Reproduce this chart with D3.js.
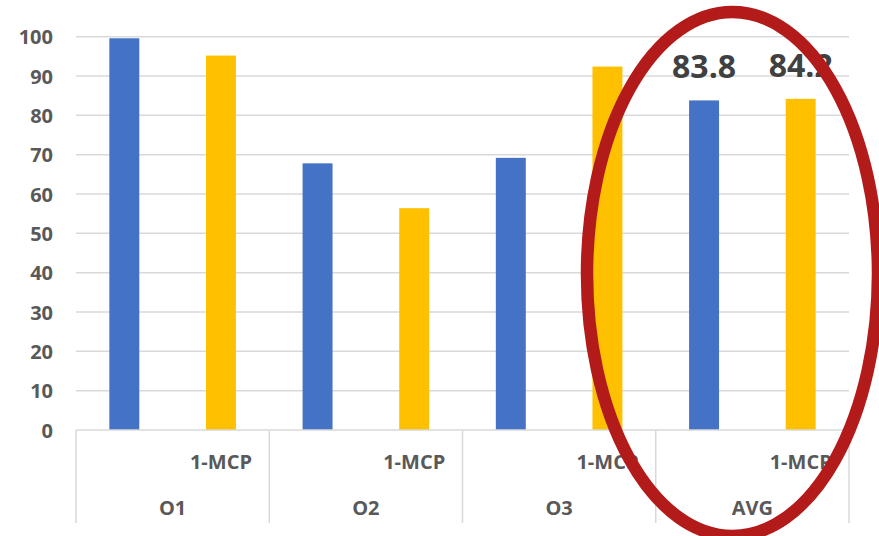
<!DOCTYPE html>
<html>
<head>
<meta charset="utf-8">
<script src="https://cdn.jsdelivr.net/npm/d3@7"></script>
<style>
  html, body { margin: 0; padding: 0; background: #fff; }
  svg { display: block; }
  text { font-family: "Open Sans", "Noto Sans", sans-serif; font-weight: 700; }
</style>
</head>
<body>
<svg id="chart" width="879" height="536"></svg>
<script>
// Groups along the category axis
const groups = ["O1", "O2", "O3", "AVG"];
// Sub-category labels inside each group (first one is left blank)
const subLabels = ["", "1-MCP"];
// Series values per group
const controlValues = [99.6, 67.8, 69.2, 83.8];
const mcpValues = [95.2, 56.4, 92.4, 84.2];
// Value axis ticks
const yTicks = [0, 10, 20, 30, 40, 50, 60, 70, 80, 90, 100];
// Groups whose bars carry value labels
const labelledGroups = ["AVG"];

const seriesColors = ["#4472C4", "#FFC000"];
const gridColor = "#D9D9D9";
const textColor = "#595959";

const svg = d3.select("#chart");
const plot = { left: 76, right: 849, top: 36.7, bottom: 430 };

const x0 = d3.scaleBand().domain(groups).range([plot.left, plot.right]).padding(0);
const x1 = d3.scaleBand().domain(d3.range(subLabels.length))
  .range([0, x0.bandwidth()]).paddingInner(0.69).paddingOuter(0.345);
const y = d3.scaleLinear().domain([0, 100]).range([plot.bottom, plot.top]);

// Horizontal gridlines
svg.append("g").selectAll("line").data(yTicks.filter(t => t > 0)).join("line")
  .attr("x1", plot.left).attr("x2", plot.right)
  .attr("y1", d => y(d)).attr("y2", d => y(d))
  .attr("stroke", gridColor).attr("stroke-width", 1.5);

// Value axis labels
const yAxis = d3.axisLeft(y).tickValues(yTicks).tickSize(0).tickPadding(0);
const yg = svg.append("g").attr("transform", `translate(${plot.left - 23},0)`).call(yAxis);
yg.select(".domain").remove();
yg.selectAll("text")
  .attr("fill", textColor).attr("font-size", 20)
  .attr("font-family", "'Open Sans', sans-serif").attr("font-weight", 700)
  .attr("dy", "0.35em");

// Bars
const rows = groups.map((g, i) => ({ group: g, values: [controlValues[i], mcpValues[i]] }));
const gGroups = svg.append("g").selectAll("g").data(rows).join("g")
  .attr("transform", d => `translate(${x0(d.group)},0)`);
gGroups.selectAll("rect").data(d => d.values.map((v, k) => ({ v, k }))).join("rect")
  .attr("x", d => x1(d.k))
  .attr("width", x1.bandwidth())
  .attr("y", d => y(d.v))
  .attr("height", d => y(0) - y(d.v))
  .attr("fill", d => seriesColors[d.k]);

// Value labels on the highlighted group
gGroups.filter(d => labelledGroups.includes(d.group))
  .selectAll("text.val").data(d => d.values.map((v, k) => ({ v, k }))).join("text")
  .attr("class", "val")
  .attr("x", d => x1(d.k) + x1.bandwidth() / 2)
  .attr("y", d => y(d.v) - 22)
  .attr("text-anchor", "middle")
  .attr("font-size", 32)
  .attr("fill", "#404040")
  .text(d => d.v.toFixed(1));

// Category axis line and group dividers
svg.append("line")
  .attr("x1", plot.left).attr("x2", plot.right)
  .attr("y1", plot.bottom).attr("y2", plot.bottom)
  .attr("stroke", gridColor).attr("stroke-width", 1.5);
const dividers = groups.map(g => x0(g)).concat([plot.right]);
svg.append("g").selectAll("line").data(dividers).join("line")
  .attr("x1", d => d).attr("x2", d => d)
  .attr("y1", plot.bottom).attr("y2", 523)
  .attr("stroke", gridColor).attr("stroke-width", 1.5);

// Sub-category labels
gGroups.selectAll("text.sub").data(subLabels.map((s, k) => ({ s, k }))).join("text")
  .attr("class", "sub")
  .attr("x", d => x1(d.k) + x1.bandwidth() / 2)
  .attr("y", 469)
  .attr("text-anchor", "middle")
  .attr("font-size", 20)
  .attr("fill", textColor)
  .text(d => d.s);

// Group labels
gGroups.append("text")
  .attr("x", x0.bandwidth() / 2)
  .attr("y", 515)
  .attr("text-anchor", "middle")
  .attr("font-size", 20)
  .attr("fill", textColor)
  .text(d => d.group);

// Highlight ring around the averages
svg.append("ellipse")
  .attr("cx", 732.5).attr("cy", 274)
  .attr("rx", 145.5).attr("ry", 262)
  .attr("fill", "none")
  .attr("stroke", "#B31B1B")
  .attr("stroke-width", 12.5);
</script>
</body>
</html>
